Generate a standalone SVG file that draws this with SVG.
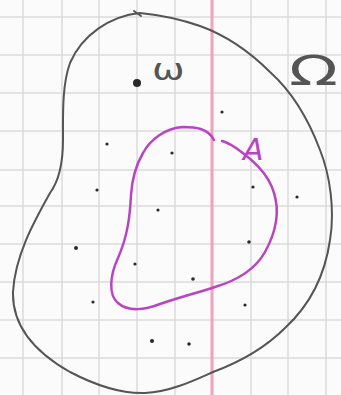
<svg xmlns="http://www.w3.org/2000/svg" width="341" height="395" viewBox="0 0 341 395">
<style>
.grid{stroke:#dcdcdc;stroke-width:1.5}
.dot{fill:#2a2a2a}
.omega{fill:none;stroke:#555;stroke-width:2;stroke-linecap:round;stroke-linejoin:round}
.setA{fill:none;stroke:#b844c4;stroke-width:2.5;stroke-linecap:round}
.lbl{font-family:"DejaVu Sans",sans-serif;fill:#555}
</style>
<rect width="341" height="395" fill="#fbfbfb"/>
<g id="grid">
<path class="grid" d="M23,0V395M62,0V395M99,0V395M137,0V395M175,0V395M251,0V395M288,0V395M326,0V395"/>
<path class="grid" d="M0,17H341M0,55H341M0,93H341M0,131H341M0,170H341M0,206H341M0,244H341M0,282H341M0,320H341M0,358H341"/>
</g>
<line id="margin" x1="212" y1="0" x2="212" y2="395" stroke="#f2a2bb" stroke-width="3"/>
<g id="Omega">
<path class="omega" d="M140,13 C110,16 82,35 70,63 C62,85 63,115 63,140 C63,165 58,182 50,193 C35,220 15,255 13,292 C12,330 40,355 70,372 C95,385 120,394 145,393 C170,392 195,380 213,372 C240,362 265,348 285,328 C310,305 325,275 330,240 C335,210 330,175 320,150 C308,118 290,90 270,72 C250,52 225,35 200,26 C180,19 160,15 140,13"/>
<path class="omega" d="M134,11 L141,16"/>
<text class="lbl" font-size="40" transform="translate(289,85) scale(1.6,1)">Ω</text>
</g>
<g id="A">
<path class="setA" d="M214,140 C208,128 195,127 183,127 C165,128 150,140 143,153 C136,165 132,180 131,195 C130,215 128,235 118,258 C110,275 108,295 118,303 C128,312 145,310 160,304 C180,297 200,292 215,287 C235,281 255,270 265,252 C276,232 280,212 274,193 C268,172 250,158 236,148 C230,144 226,142 222,141"/>
<text x="243" y="160" font-family="DejaVu Sans,sans-serif" font-style="italic" font-size="30" fill="#b844c4">A</text>
</g>
<g id="omega-point">
<circle class="dot" cx="137" cy="83" r="4"/>
<text class="lbl" font-size="30" transform="translate(152,80) scale(1.3,1)">ω</text>
</g>
<g id="dots">
<circle class="dot" cx="222" cy="112" r="1.6"/>
<circle class="dot" cx="107" cy="144" r="1.6"/>
<circle class="dot" cx="172" cy="153" r="1.6"/>
<circle class="dot" cx="97" cy="190" r="1.6"/>
<circle class="dot" cx="253" cy="187" r="1.6"/>
<circle class="dot" cx="297" cy="197" r="1.6"/>
<circle class="dot" cx="158" cy="210" r="1.6"/>
<circle class="dot" cx="76" cy="248" r="2"/>
<circle class="dot" cx="249" cy="242" r="1.8"/>
<circle class="dot" cx="135" cy="264" r="1.6"/>
<circle class="dot" cx="193" cy="279" r="1.8"/>
<circle class="dot" cx="93" cy="302" r="1.6"/>
<circle class="dot" cx="245" cy="305" r="1.6"/>
<circle class="dot" cx="152" cy="341" r="2"/>
<circle class="dot" cx="189" cy="344" r="1.8"/>
</g>
</svg>
